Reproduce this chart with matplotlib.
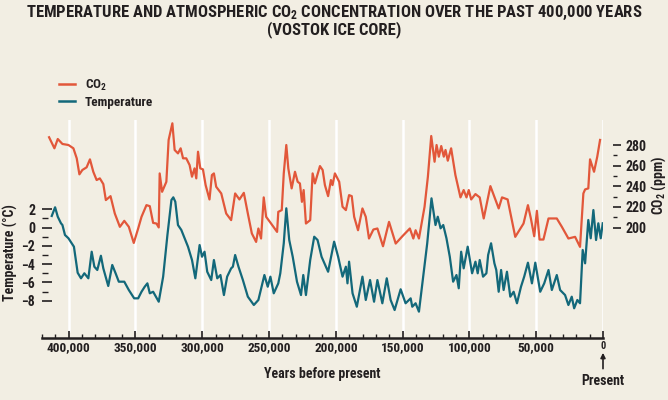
import matplotlib
matplotlib.use("Agg")
import matplotlib.pyplot as plt
from matplotlib import font_manager
import numpy as np

# ---- data (ages in thousands of years before present)
co2_age_kyr = [414.7, 410.7, 408.2, 404.7, 400.2, 396.5, 394.0, 392.0, 389.8, 386.6,
               384.1, 381.6, 379.1, 376.7, 374.1, 372.2, 368.7, 365.5, 361.7, 358.4,
               355.0, 351.3, 348.0, 345.5, 341.8, 339.3, 336.8, 334.3, 332.6, 331.9,
               330.1, 326.9, 325.2, 322.4, 320.7, 318.2, 316.2, 314.4, 312.0, 309.5,
               307.7, 305.8, 304.5, 303.2, 301.5, 299.5, 297.5, 294.6, 292.8, 291.3,
               289.6, 285.8, 282.1, 278.4, 275.4, 272.2, 268.9, 265.9, 262.9, 259.7,
               258.0, 256.0, 254.0, 252.2, 248.5, 244.0, 243.1, 240.5, 239.0, 237.1,
               235.6, 233.1, 230.6, 228.6, 226.9, 225.4, 224.1, 222.4, 219.2, 217.4,
               215.7, 211.9, 209.9, 208.2, 205.8, 203.7, 202.5, 200.7, 197.5, 195.0,
               192.5, 190.1, 188.1, 186.3, 183.4, 180.1, 177.6, 175.2, 171.9, 168.9,
               164.7, 160.2, 155.2, 150.2, 144.6, 142.0, 140.3, 137.8, 133.6, 131.1,
               128.6, 126.1, 124.6, 122.9, 121.1, 119.2, 117.9, 116.2, 113.7, 110.5,
               106.7, 104.3, 102.2, 100.5, 98.7, 95.5, 92.3, 89.3, 84.3, 78.1,
               75.6, 71.4, 65.7, 59.5, 56.2, 54.0, 51.5, 49.5, 47.5, 44.6,
               40.8, 34.6, 30.8, 25.9, 20.9, 17.2, 14.7, 13.4, 11.0, 9.7,
               6.7, 4.3, 2.2]
co2_ppm = [287.5, 276.8, 285.8, 281.0, 280.0, 276.8, 267.1, 251.6, 255.8, 258.4,
           266.1, 254.1, 246.1, 247.7, 242.2, 226.7, 230.5, 213.7, 200.8, 206.6,
           200.8, 185.2, 199.2, 210.5, 221.8, 220.8, 204.6, 204.0, 200.2, 252.5,
           234.7, 244.4, 284.9, 301.0, 275.2, 271.9, 276.8, 267.1, 267.1, 260.6,
           249.3, 257.4, 247.7, 273.5, 257.4, 256.4, 241.2, 227.3, 250.9, 252.5,
           239.6, 233.1, 213.7, 207.3, 233.1, 227.3, 233.7, 213.7, 194.4, 186.2,
           199.2, 189.5, 229.3, 210.5, 204.0, 195.9, 215.3, 217.0, 252.5, 280.0,
           257.4, 238.0, 254.1, 244.4, 242.8, 225.0, 236.4, 204.0, 207.3, 252.5,
           242.8, 259.6, 255.8, 241.2, 230.5, 246.1, 241.2, 252.5, 244.4, 220.2,
           217.0, 231.5, 230.5, 210.5, 197.5, 218.6, 210.5, 189.5, 198.2, 199.2,
           182.0, 205.6, 184.6, 191.7, 199.2, 189.5, 197.5, 189.5, 220.2, 249.3,
           288.7, 263.8, 280.0, 268.7, 279.0, 268.7, 275.2, 264.8, 276.8, 250.9,
           229.3, 236.4, 229.3, 236.4, 227.3, 232.5, 229.3, 208.9, 240.2, 218.6,
           229.3, 227.3, 191.1, 204.0, 221.8, 208.9, 191.7, 216.3, 188.5, 188.5,
           208.9, 208.9, 200.8, 189.5, 191.1, 181.4, 233.1, 237.0, 238.0, 266.1,
           254.1, 268.7, 284.9]

temp_age_kyr = [412.7, 410.2, 408.2, 405.8, 404.7, 402.8, 400.2, 397.8, 396.1, 393.3,
                390.8, 388.3, 385.3, 382.8, 380.8, 378.6, 375.9, 374.1, 370.4, 367.4,
                364.9, 362.5, 358.4, 355.0, 351.0, 348.0, 345.5, 343.1, 341.1, 339.3,
                336.8, 332.6, 329.3, 326.1, 323.1, 321.7, 320.2, 318.2, 315.7, 313.2,
                310.7, 307.7, 305.2, 302.0, 300.2, 298.3, 296.3, 293.3, 291.3, 288.8,
                286.4, 283.8, 281.4, 278.4, 277.1, 275.4, 272.9, 269.6, 265.9, 261.4,
                258.0, 253.5, 251.0, 249.0, 246.5, 243.1, 241.6, 239.0, 237.1, 234.9,
                232.3, 229.1, 226.1, 224.4, 222.4, 219.2, 216.2, 213.7, 210.7, 205.8,
                201.3, 198.3, 195.0, 192.5, 191.3, 190.1, 187.5, 184.3, 180.1, 177.6,
                174.4, 171.4, 168.9, 165.2, 161.9, 159.0, 156.0, 151.5, 147.8, 144.0,
                142.8, 140.3, 137.8, 134.6, 131.6, 128.4, 125.4, 123.7, 121.6, 119.6,
                117.2, 114.7, 112.2, 109.7, 108.0, 106.2, 104.3, 101.3, 98.0, 95.5,
                93.8, 92.3, 89.8, 87.3, 86.0, 83.8, 81.3, 79.9, 78.1, 76.3,
                74.4, 71.9, 69.4, 66.9, 64.4, 61.4, 59.0, 56.2, 53.2, 50.7,
                47.0, 44.0, 40.8, 38.3, 34.6, 32.1, 28.4, 25.9, 23.4, 21.6,
                19.2, 17.2, 15.2, 13.4, 11.0, 9.2, 7.2, 5.2, 3.5, 1.7,
                0.2]
temp_c = [1.27, 2.22, 1.19, 0.47, 0.28, -0.81, -1.17, -1.72, -2.09, -4.94,
          -5.55, -5.00, -5.55, -2.64, -4.28, -4.64, -3.08, -4.46, -6.39, -4.09,
          -5.00, -5.92, -5.92, -6.83, -7.74, -7.74, -7.02, -6.47, -6.10, -7.19,
          -7.02, -8.11, -5.37, -0.81, 3.02, 3.31, 2.83, 0.28, -0.26, -1.17,
          -2.09, -3.55, -5.55, -1.91, -3.19, -2.64, -4.83, -5.74, -3.55, -5.55,
          -5.19, -7.38, -5.37, -4.46, -4.28, -3.00, -4.28, -5.74, -7.56, -8.47,
          -7.92, -5.19, -6.47, -5.37, -7.19, -6.10, -5.00, -1.72, 2.11, -1.36,
          -3.19, -5.92, -7.38, -5.19, -7.38, -3.55, -1.00, -1.36, -3.19, -4.83,
          -1.54, -3.19, -5.37, -4.28, -6.10, -3.73, -7.19, -8.66, -5.37, -7.92,
          -5.74, -8.11, -5.74, -8.28, -5.55, -7.92, -9.02, -6.75, -8.28, -7.74,
          -8.66, -8.28, -9.20, -5.37, -1.72, 3.20, 0.28, 1.19, -0.08, 0.28,
          -1.17, -3.19, -5.92, -5.19, -6.64, -2.64, -4.46, -2.09, -5.00, -3.73,
          -5.00, -3.55, -5.37, -5.00, -3.00, -1.72, -3.91, -4.64, -7.02, -4.64,
          -6.83, -4.83, -7.56, -7.02, -8.28, -6.47, -5.37, -3.84, -6.10, -3.84,
          -7.02, -6.10, -4.64, -6.83, -5.19, -6.83, -7.38, -8.47, -7.56, -8.83,
          -7.92, -8.28, -2.45, -3.91, 0.83, -1.17, 1.92, -1.36, 0.47, -1.17,
          0.47]

year_ticks = [400000, 350000, 300000, 250000, 200000, 150000, 100000, 50000]
temp_ticks = [2, 0, -2, -4, -6, -8]
co2_ticks = [280, 260, 240, 220, 200]

BG = "#f2eee3"
RED = "#e2573a"
TEAL = "#13687a"
INK = "#231f20"

# pick a narrow bold face if one is around
installed = {f.name for f in font_manager.fontManager.ttflist}
family = next((f for f in ["Liberation Sans Narrow", "Roboto Condensed",
                           "Open Sans Condensed", "Roboto", "Lato", "DejaVu Sans"]
               if f in installed), "DejaVu Sans")
plt.rcParams["font.family"] = [family, "DejaVu Sans"]
plt.rcParams["font.weight"] = "bold"
plt.rcParams["axes.labelweight"] = "bold"
plt.rcParams["mathtext.default"] = "regular"

fig = plt.figure(figsize=(6.68, 4.0), dpi=100, facecolor=BG)
ax = fig.add_axes([42 / 668, 62 / 400, 561 / 668, 218 / 400])
ax.set_facecolor(BG)
ax2 = ax.twinx()

co2_years = np.array(co2_age_kyr) * 1000
temp_years = np.array(temp_age_kyr) * 1000

for yr in year_ticks + [0]:
    ax.axvline(yr, ymin=0.03, ymax=1.0, color="white", lw=1.8, zorder=0)

ax.plot(temp_years, temp_c, color=TEAL, lw=1.6, zorder=3)
ax2.plot(co2_years, co2_ppm, color=RED, lw=1.6, zorder=3)

ax.set_xlim(420000, 0)
ax.set_ylim(-12.08, 11.77)
ax2.set_ylim(93.2, 304.2)

for a in (ax, ax2):
    for s in ("top", "left", "right"):
        a.spines[s].set_visible(False)
ax2.spines["bottom"].set_visible(False)
ax.spines["bottom"].set_linewidth(1.8)
ax.spines["bottom"].set_color(INK)

# x axis
ax.set_xticks(year_ticks + [0])
ax.set_xticklabels([f"{v:,}" for v in year_ticks] + ["0"])
ax.set_xticks(np.arange(0, 420001, 10000), minor=True)
ax.tick_params(axis="x", which="major", direction="in", length=5, width=1.2,
               color=INK, labelsize=9.5, labelcolor=INK, pad=2.5)
ax.tick_params(axis="x", which="minor", direction="in", length=3, width=1.0, color=INK)
ax.get_xticklabels()[-1].set_fontsize(7.5)
ax.set_xlabel("Years before present", fontsize=10, color=INK, labelpad=9)

# temperature axis (left)
ax.set_yticks(temp_ticks)
ax.set_yticks(np.arange(-7, 2, 2), minor=True)
ax.tick_params(axis="y", which="major", direction="in", length=7, width=1.2,
               color=INK, labelsize=10, labelcolor=INK, pad=5)
ax.tick_params(axis="y", which="minor", direction="in", length=4, width=1.0, color=INK)
ax.set_ylabel("Temperature (°C)", fontsize=10, color=INK)
ax.yaxis.set_label_coords(-0.042, 0.394)

# CO2 axis (right)
ax2.spines["right"].set_position(("outward", 7))
ax2.set_yticks(co2_ticks)
ax2.set_yticks(np.arange(210, 280, 20), minor=True)
ax2.tick_params(axis="y", which="major", direction="out", length=6, width=1.2,
                color=INK, labelsize=10, labelcolor=INK, pad=3)
ax2.tick_params(axis="y", which="minor", direction="out", length=3, width=1.0, color=INK)
ax2.set_ylabel("CO$_2$ (ppm)", fontsize=10, color=INK, rotation=90)
ax2.yaxis.set_label_coords(1.082, 0.70)

# "Present" marker
ax.annotate("Present", xy=(0, -0.068), xycoords=("data", "axes fraction"),
            xytext=(0, -0.195), textcoords=("data", "axes fraction"),
            ha="center", va="center", fontsize=10, color=INK,
            arrowprops=dict(arrowstyle="-|>", color=INK, lw=1.2,
                            mutation_scale=7, shrinkA=1.5, shrinkB=0))

# legend
fig.legend(handles=[plt.Line2D([], [], color=RED, lw=1.8),
                    plt.Line2D([], [], color=TEAL, lw=1.8)],
           labels=["CO$_2$", "Temperature"], loc="upper left",
           bbox_to_anchor=(47 / 668, 1 - 66 / 400), frameon=False,
           fontsize=9.5, handlelength=1.2, handletextpad=0.75, labelspacing=0.2,
           labelcolor=INK)

title = fig.text(0.5, 1 - 13 / 400,
                 "TEMPERATURE AND ATMOSPHERIC CO$_2$ CONCENTRATION OVER THE PAST 400,000 YEARS",
                 ha="center", va="center", fontsize=12, color=INK)
sub = fig.text(0.5, 1 - 30 / 400, "(VOSTOK ICE CORE)", ha="center", va="center",
               fontsize=12, color=INK)

# shrink the title so it spans the width the original does (~658 px)
r = fig.canvas.get_renderer()
w = title.get_window_extent(r).width
size = 12 * min(1.0, 658 / w)
title.set_fontsize(size)
sub.set_fontsize(size)

fig.savefig("out.png", dpi=100, facecolor=BG)
